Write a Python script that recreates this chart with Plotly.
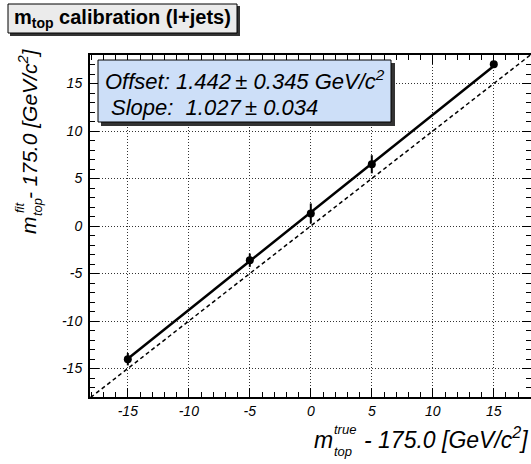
import plotly.graph_objects as go

# ---- data ----
m_true = [-15, -5, 0, 5, 15]
m_fit = [-14.02, -3.6, 1.32, 6.5, 17.03]
m_fit_err = [0.65, 0.7, 1.05, 0.95, 0.3]
offset = 1.442
offset_err = 0.345
slope = 1.027
slope_err = 0.034
tick_vals = [-15, -10, -5, 0, 5, 10, 15]

W, H = 531, 464
L, R, T, B = 90, 0, 55, 67
FONT = "Liberation Sans, Arial, Helvetica, sans-serif"


def px(x):
    return (x - L) / (W - L - R)


def py(y):
    return (H - B - y) / (H - T - B)


fit_x = [m_true[0], m_true[-1]]
fit_y = [offset + slope * v for v in fit_x]
diag = [-18.5, 18.5]

fig = go.Figure()
fig.add_trace(go.Scatter(x=diag, y=diag, mode="lines",
                         line=dict(color="black", width=1.5, dash="4px,3px"),
                         hoverinfo="skip", showlegend=False))
fig.add_trace(go.Scatter(x=fit_x, y=fit_y, mode="lines",
                         line=dict(color="black", width=2.5),
                         showlegend=False))
fig.add_trace(go.Scatter(x=m_true, y=m_fit, mode="markers",
                         marker=dict(color="black", size=8),
                         error_y=dict(type="data", array=m_fit_err, color="black",
                                      thickness=2, width=0),
                         showlegend=False))

axis_common = dict(
    showline=True, linecolor="black", linewidth=2, mirror="allticks",
    ticks="inside", ticklen=9, tickwidth=1, tickcolor="black",
    tickvals=tick_vals, ticktext=[str(v) for v in tick_vals],
    tickfont=dict(family=FONT, size=14, color="black", style="italic"),
    showgrid=True, gridcolor="#333333", griddash="1px,2px", gridwidth=1,
    zeroline=False, automargin=False,
    minor=dict(dtick=1, ticks="inside", ticklen=5, tickcolor="black", tickwidth=1, showgrid=False),
)

fig.update_xaxes(range=[-18.1, 18.05], **axis_common)
fig.update_yaxes(range=[-18, 18], ticklabelstandoff=3, **axis_common)

shapes = []
# title box shadow + box
shapes.append(dict(type="rect", xref="paper", yref="paper",
                   x0=px(10), x1=px(240), y0=py(36), y1=py(6),
                   fillcolor="#333333", line=dict(width=0), layer="above"))
shapes.append(dict(type="rect", xref="paper", yref="paper",
                   x0=px(8), x1=px(237), y0=py(33), y1=py(4),
                   fillcolor="#ebebeb", line=dict(color="black", width=1), layer="above"))
# stats box shadow + box
shapes.append(dict(type="rect", xref="paper", yref="paper",
                   x0=px(101), x1=px(395), y0=py(126), y1=py(63),
                   fillcolor="#333333", line=dict(width=0), layer="above"))
shapes.append(dict(type="rect", xref="paper", yref="paper",
                   x0=px(98), x1=px(391), y0=py(122), y1=py(60),
                   fillcolor="#cddff8", line=dict(color="black", width=1), layer="above"))

ann = []
ann.append(dict(xref="paper", yref="paper", x=px(12), y=py(19), xanchor="left", yanchor="middle",
                text="<b>m<sub>top</sub> calibration (l+jets)</b>", showarrow=False,
                font=dict(family=FONT, size=20, color="black")))
ann.append(dict(xref="paper", yref="paper", x=px(103), y=py(80), xanchor="left", yanchor="middle",
                text=f"Offset: {offset:.3f}\u2009\u00b1 {offset_err:.3f} GeV/c<sup>2</sup>", showarrow=False,
                font=dict(family=FONT, size=22, color="black", style="italic")))
ann.append(dict(xref="paper", yref="paper", x=px(109), y=py(108), xanchor="left", yanchor="middle",
                text=f"Slope:  {slope:.3f}\u2009\u00b1 {slope_err:.3f}", showarrow=False,
                font=dict(family=FONT, size=22, color="black", style="italic")))

# x axis title pieces
xt_font = dict(family=FONT, size=23, color="black", style="italic")
xs_font = dict(family=FONT, size=13, color="black", style="italic")
ann.append(dict(xref="paper", yref="paper", x=px(335), y=py(440), xanchor="right", yanchor="middle",
                text="m", showarrow=False, font=xt_font))
ann.append(dict(xref="paper", yref="paper", x=px(332), y=py(429), xanchor="left", yanchor="middle",
                text="true", showarrow=False, font=xs_font))
ann.append(dict(xref="paper", yref="paper", x=px(332), y=py(451), xanchor="left", yanchor="middle",
                text="top", showarrow=False, font=xs_font))
ann.append(dict(xref="paper", yref="paper", x=px(530), y=py(438), xanchor="right", yanchor="middle",
                text="- 175.0 [GeV/c<sup>2</sup>]", showarrow=False, font=xt_font))

# y axis title pieces (rotated)
yt_font = dict(family=FONT, size=21, color="black", style="italic")
ys_font = dict(family=FONT, size=13, color="black", style="italic")
ann.append(dict(xref="paper", yref="paper", x=px(28), y=py(225), xanchor="center", yanchor="middle",
                text="m", showarrow=False, font=yt_font, textangle=-90))
ann.append(dict(xref="paper", yref="paper", x=px(19), y=py(207), xanchor="center", yanchor="middle",
                text="fit", showarrow=False, font=ys_font, textangle=-90))
ann.append(dict(xref="paper", yref="paper", x=px(37), y=py(207), xanchor="center", yanchor="middle",
                text="top", showarrow=False, font=ys_font, textangle=-90))
ann.append(dict(xref="paper", yref="paper", x=px(28), y=py(124), xanchor="center", yanchor="middle",
                text="- 175.0 [GeV/c<sup>2</sup>]", showarrow=False, font=yt_font, textangle=-90))

fig.update_layout(
    template="none",
    width=W, height=H, autosize=False,
    margin=dict(l=L, r=R, t=T, b=B),
    paper_bgcolor="white", plot_bgcolor="white",
    shapes=shapes, annotations=ann, showlegend=False,
    font=dict(family=FONT),
)

fig.write_html("out.html", config={"displayModeBar": False},
               post_script="document.body.style.margin='0';")
